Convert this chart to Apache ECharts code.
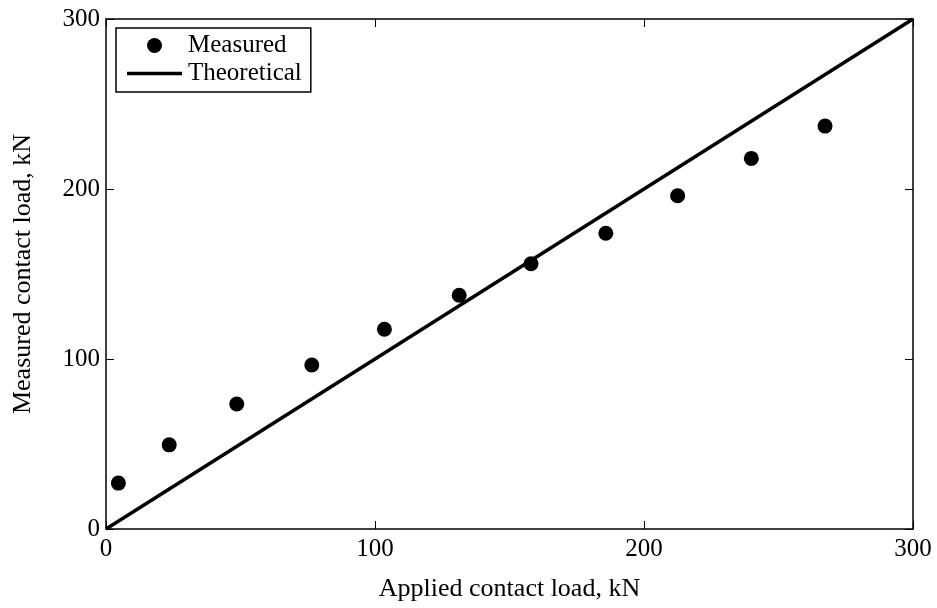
<!DOCTYPE html>
<html>
<head>
<meta charset="utf-8">
<script src="https://cdn.jsdelivr.net/npm/echarts@6/dist/echarts.min.js"></script>
<style>
  html, body { margin: 0; padding: 0; background: #fff; }
  #chart { width: 937px; height: 608px; }
</style>
</head>
<body>
<div id="chart"></div>
<script>
// Applied load (x) and the load measured by the sensor (y), kN
const appliedLoad = [4.6, 23.5, 48.6, 76.5, 103.5, 131.3, 158, 185.8, 212.5, 239.9, 267.3];
const measuredLoad = [27, 49.5, 73.5, 96.5, 117.5, 137.5, 156, 174, 196, 218, 237];
// Ideal one-to-one response
const theoreticalX = [0, 300];
const theoreticalY = [0, 300];

const axisMin = 0, axisMax = 300, axisStep = 100;
const xTitle = 'Applied contact load, kN';
const yTitle = 'Measured contact load, kN';

const font = 'Liberation Serif, Times New Roman, serif';
const black = '#000';

// plain horizontal bar for the line entry in the legend (bbox spans the full icon box)
const lineIcon = 'path://M0,0L0,0ZM0,5.75L55,5.75L55,9.25L0,9.25ZM0,15L0,15Z';

const chart = echarts.init(document.getElementById('chart'), null, { renderer: 'canvas' });

function frameAxis(extra) {
  return Object.assign({
    type: 'value',
    min: axisMin,
    max: axisMax,
    interval: axisStep,
    axisLine: { show: true, onZero: false, lineStyle: { color: black, width: 1.5 } },
    axisTick: { show: true, inside: true, length: 8, lineStyle: { color: black, width: 1 } },
    splitLine: { show: false },
    axisLabel: { show: false }
  }, extra);
}

const option = {
  backgroundColor: '#fff',
  animation: false,
  grid: { left: 106, right: 24, top: 19, bottom: 79, containLabel: false },
  legend: {
    left: 116,
    top: 28,
    orient: 'vertical',
    backgroundColor: '#fff',
    borderColor: black,
    borderWidth: 1.5,
    borderRadius: 0,
    padding: [5, 9, 6, 11],
    itemWidth: 55,
    itemHeight: 15,
    itemGap: 3,
    textStyle: { fontFamily: font, fontSize: 25, color: black, padding: [0, 0, 0, 1] },
    data: [
      { name: 'Measured', icon: 'circle' },
      { name: 'Theoretical', icon: lineIcon, itemStyle: { color: black, borderWidth: 0 } }
    ]
  },
  xAxis: [
    frameAxis({
      position: 'bottom',
      name: xTitle,
      nameLocation: 'middle',
      nameGap: 47,
      nameTextStyle: { fontFamily: font, fontSize: 26, color: black },
      axisLabel: { show: true, margin: 8, fontFamily: font, fontSize: 25, color: black }
    }),
    frameAxis({ position: 'top' })
  ],
  yAxis: [
    frameAxis({
      position: 'left',
      name: yTitle,
      nameLocation: 'middle',
      nameGap: 70,
      nameTextStyle: { fontFamily: font, fontSize: 26, color: black },
      axisLabel: { show: true, margin: 6, fontFamily: font, fontSize: 25, color: black }
    }),
    frameAxis({ position: 'right' })
  ],
  series: [
    {
      name: 'Theoretical',
      type: 'line',
      xAxisIndex: 0,
      yAxisIndex: 0,
      data: theoreticalX.map((x, i) => [x, theoreticalY[i]]),
      symbol: 'none',
      showSymbol: false,
      lineStyle: { color: black, width: 3.5 },
      itemStyle: { color: black },
      z: 2
    },
    {
      name: 'Measured',
      type: 'scatter',
      xAxisIndex: 0,
      yAxisIndex: 0,
      data: appliedLoad.map((x, i) => [x, measuredLoad[i]]),
      symbol: 'circle',
      symbolSize: 15,
      itemStyle: { color: black, opacity: 1 },
      z: 3
    }
  ]
};

chart.setOption(option);
</script>
</body>
</html>
